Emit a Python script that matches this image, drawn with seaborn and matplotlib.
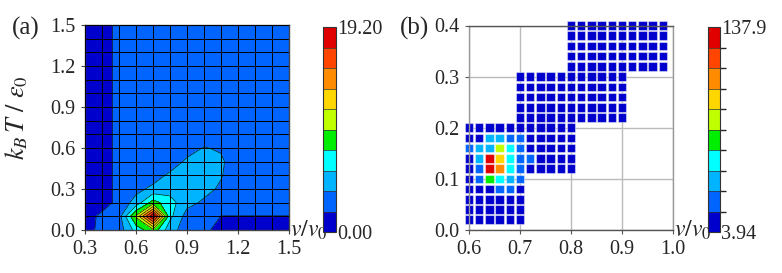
import numpy as np
import pandas as pd
import matplotlib
matplotlib.use("Agg")
import matplotlib.pyplot as plt
from matplotlib.colors import ListedColormap, BoundaryNorm
from matplotlib.cm import ScalarMappable
import seaborn as sns

# ---------------- data: panel (a) ----------------
a_x = [0.3, 0.4, 0.5, 0.6, 0.7, 0.8, 0.9, 1.0, 1.1, 1.2, 1.3, 1.4, 1.5]
a_y = [0.0, 0.1, 0.2, 0.3, 0.4, 0.5, 0.6, 0.7, 0.8, 0.9, 1.0, 1.1, 1.2, 1.3, 1.4, 1.5]
a_z = [
    [1.0, 2.6, 2.8, 6.5, 9.0, 4.5, 3.0, 2.5, 1.0, 1.0, 1.0, 1.0, 1.0],
    [1.0, 2.4, 3.0, 9.9, 19.2, 6.3, 3.0, 2.6, 1.9, 1.9, 1.9, 1.9, 1.9],
    [1.0, 1.0, 2.5, 4.6, 8.5, 6.5, 4.5, 3.5, 2.5, 2.5, 2.5, 2.5, 2.5],
    [1.0, 1.0, 2.5, 3.3, 4.3, 5.0, 4.8, 4.5, 3.5, 2.5, 2.5, 2.5, 2.5],
    [1.0, 1.0, 2.5, 2.5, 3.0, 4.2, 4.6, 4.8, 4.0, 2.5, 2.5, 2.5, 2.5],
    [1.0, 1.0, 2.5, 2.5, 2.5, 2.8, 4.2, 4.6, 4.2, 2.5, 2.5, 2.5, 2.5],
    [1.0, 1.0, 2.5, 2.5, 2.5, 2.5, 3.0, 3.95, 3.6, 2.5, 2.5, 2.5, 2.5],
    [1.0, 1.0, 2.5, 2.5, 2.5, 2.5, 2.5, 2.5, 2.5, 2.5, 2.5, 2.5, 2.5],
    [1.0, 1.0, 2.5, 2.5, 2.5, 2.5, 2.5, 2.5, 2.5, 2.5, 2.5, 2.5, 2.5],
    [1.0, 1.0, 2.5, 2.5, 2.5, 2.5, 2.5, 2.5, 2.5, 2.5, 2.5, 2.5, 2.5],
    [1.0, 1.0, 2.5, 2.5, 2.5, 2.5, 2.5, 2.5, 2.5, 2.5, 2.5, 2.5, 2.5],
    [1.0, 1.0, 2.5, 2.5, 2.5, 2.5, 2.5, 2.5, 2.5, 2.5, 2.5, 2.5, 2.5],
    [1.0, 1.0, 2.5, 2.5, 2.5, 2.5, 2.5, 2.5, 2.5, 2.5, 2.5, 2.5, 2.5],
    [1.0, 1.0, 2.5, 2.5, 2.5, 2.5, 2.5, 2.5, 2.5, 2.5, 2.5, 2.5, 2.5],
    [1.0, 1.0, 2.5, 2.5, 2.5, 2.5, 2.5, 2.5, 2.5, 2.5, 2.5, 2.5, 2.5],
    [1.0, 1.0, 2.5, 2.5, 2.5, 2.5, 2.5, 2.5, 2.5, 2.5, 2.5, 2.5, 2.5],
]
a_min, a_max = 0.0, 19.20
a_xticks = [0.3, 0.6, 0.9, 1.2, 1.5]
a_yticks = [0.0, 0.3, 0.6, 0.9, 1.2, 1.5]

# ---------------- data: panel (b) ----------------
b_step = 0.02
b_block_x = [(0.60, 0.70), (0.70, 0.80), (0.80, 0.90), (0.90, 0.98)]
b_block_y = [(0.02, 0.20), (0.12, 0.30), (0.22, 0.40), (0.32, 0.40)]
b_hot_x = [0.64, 0.66, 0.68, 0.70,
           0.60, 0.62, 0.64, 0.66, 0.68, 0.70,
           0.62, 0.64, 0.66, 0.68, 0.70, 0.72,
           0.62, 0.64, 0.66, 0.68, 0.70,
           0.62, 0.64, 0.66, 0.68, 0.70,
           0.66, 0.68]
b_hot_y = [0.18, 0.18, 0.18, 0.18,
           0.16, 0.16, 0.16, 0.16, 0.16, 0.16,
           0.14, 0.14, 0.14, 0.14, 0.14, 0.14,
           0.12, 0.12, 0.12, 0.12, 0.12,
           0.10, 0.10, 0.10, 0.10, 0.10,
           0.08, 0.08]
b_hot_v = [35, 40, 25, 22,
           20, 33, 38, 78, 52, 24,
           36, 137.9, 90, 50, 25, 20,
           28, 130, 105, 48, 22,
           24, 65, 55, 38, 20,
           22, 20]
b_min, b_max = 3.94, 137.9
b_xticks = [0.6, 0.7, 0.8, 0.9, 1.0]
b_yticks = [0.0, 0.1, 0.2, 0.3, 0.4]

level_colors = ['#0000cd', '#0064ff', '#00b4ff', '#00ffff', '#00ee00',
                '#c0ff00', '#ffd700', '#ff8c00', '#ff4500', '#e00000']

# ---------------- style ----------------
sns.set_theme(style="white")
plt.rcParams['font.family'] = ['Liberation Serif', 'DejaVu Serif']
plt.rcParams['mathtext.fontset'] = 'stix'
FS = 14.5

fig = plt.figure(figsize=(7.82, 2.73), dpi=100)
W, H = 782, 273
ax1 = fig.add_axes([85 / W, 43 / H, 204 / W, 205 / H])
cax1 = fig.add_axes([323 / W, 41 / H, 13 / W, 205 / H])
ax2 = fig.add_axes([469 / W, 43 / H, 204 / W, 204.5 / H])
cax2 = fig.add_axes([708 / W, 41 / H, 12 / W, 205 / H])

nlev = len(level_colors)

# ---------------- panel (a) ----------------
X, Y = np.meshgrid(a_x, a_y)
Z = np.array(a_z)
a_levels = np.linspace(a_min, a_max, nlev + 1)
cf = ax1.contourf(X, Y, Z, levels=a_levels, colors=level_colors)
ax1.contour(X, Y, Z, levels=a_levels[1:-1], colors='#111111', linewidths=0.5)
ax1.set_xlim(a_x[0], a_x[-1])
ax1.set_ylim(a_y[0], a_y[-1])
ax1.set_xticks(a_xticks)
ax1.set_yticks(a_yticks)
ax1.set_xticks(a_x, minor=True)
ax1.set_yticks(a_y, minor=True)
ax1.set_xticklabels([f"{v:.1f}" for v in a_xticks])
ax1.set_yticklabels([f"{v:.1f}" for v in a_yticks])
ax1.grid(which='both', color='#000000', lw=0.7)
ax1.set_axisbelow(False)
ax1.tick_params(which='major', length=3, width=0.8, color='#444444', direction='out',
                labelsize=FS, pad=4, bottom=True, left=True)
ax1.tick_params(which='minor', length=0)
for s in ax1.spines.values():
    s.set_color('#444444')
    s.set_linewidth(1.0)
ax1.set_ylabel(r'$k_B\,T\ /\ \varepsilon_0$', fontsize=19)
ax1.yaxis.set_label_coords(-0.27, 0.55)
ax1.annotate(r'$v/v_0$', xy=(1, 0), xycoords='axes fraction', xytext=(1, -5),
             textcoords='offset points', ha='left', va='baseline', fontsize=17)

cb1 = fig.colorbar(cf, cax=cax1, ticks=[a_min, a_max], drawedges=True)
cb1.ax.set_yticklabels([f"{a_min:.2f}", f"{a_max:.2f}"])
cb1.ax.tick_params(length=0, pad=1, labelsize=FS)
cb1.outline.set_edgecolor('#333333')
cb1.outline.set_linewidth(0.8)
cb1.dividers.set_color('#333333')
cb1.dividers.set_linewidth(0.5)

# ---------------- panel (b) ----------------
cells = {}
for (x0, x1), (y0, y1) in zip(b_block_x, b_block_y):
    for xv in np.arange(x0, x1 + 1e-9, b_step):
        for yv in np.arange(y0, y1 + 1e-9, b_step):
            cells[(round(xv, 2), round(yv, 2))] = b_min
for xv, yv, vv in zip(b_hot_x, b_hot_y, b_hot_v):
    cells[(round(xv, 2), round(yv, 2))] = vv

df = pd.DataFrame([(k[0], k[1], v) for k, v in cells.items()], columns=['x', 'y', 'v'])
b_levels = np.linspace(b_min, b_max, nlev + 1)
df['level'] = np.clip(np.digitize(df['v'], b_levels[1:-1], right=True), 0, nlev - 1)
palette = {i: level_colors[i] for i in range(nlev)}

ax2.grid(True, color='#bbbbbb', lw=1.0)
ax2.set_axisbelow(True)
sns.scatterplot(data=df, x='x', y='y', hue='level', palette=palette, marker='s',
                s=38, linewidth=0.8, edgecolor=(1, 1, 1, 0.45), legend=False,
                clip_on=False, ax=ax2, zorder=3)
ax2.set_xlim(b_xticks[0], b_xticks[-1])
ax2.set_ylim(b_yticks[0], b_yticks[-1])
ax2.set_xticks(b_xticks)
ax2.set_yticks(b_yticks)
ax2.set_xticklabels([f"{v:.1f}" for v in b_xticks])
ax2.set_yticklabels([f"{v:.1f}" for v in b_yticks])
ax2.set_xlabel('')
ax2.set_ylabel('')
ax2.tick_params(length=3, width=0.8, color='#555555', direction='out',
                labelsize=FS, pad=4, bottom=True, left=True)
ax2.spines['top'].set_color('#555555')
ax2.spines['bottom'].set_color('#555555')
ax2.spines['left'].set_color('#999999')
ax2.spines['right'].set_color('#999999')
for s in ax2.spines.values():
    s.set_linewidth(1.0)
    s.set_zorder(4)
ax2.annotate(r'$v/v_0$', xy=(1, 0), xycoords='axes fraction', xytext=(1, -5),
             textcoords='offset points', ha='left', va='baseline', fontsize=17)

sm = ScalarMappable(norm=BoundaryNorm(b_levels, nlev), cmap=ListedColormap(level_colors))
cb2 = fig.colorbar(sm, cax=cax2, ticks=[b_min, b_max], drawedges=True)
cb2.ax.set_yticklabels([f"{b_min:.2f}", f"{b_max:.1f}"])
cb2.ax.tick_params(length=0, pad=1, labelsize=FS)
cb2.outline.set_edgecolor('#333333')
cb2.outline.set_linewidth(0.8)
cb2.dividers.set_color('#333333')
cb2.dividers.set_linewidth(0.5)

fig.text(12 / W, 1 - 28 / H, '(a)', fontsize=18, va='center', ha='left')
fig.text(400 / W, 1 - 28 / H, '(b)', fontsize=18, va='center', ha='left')

fig.savefig('out.png', dpi=100)
